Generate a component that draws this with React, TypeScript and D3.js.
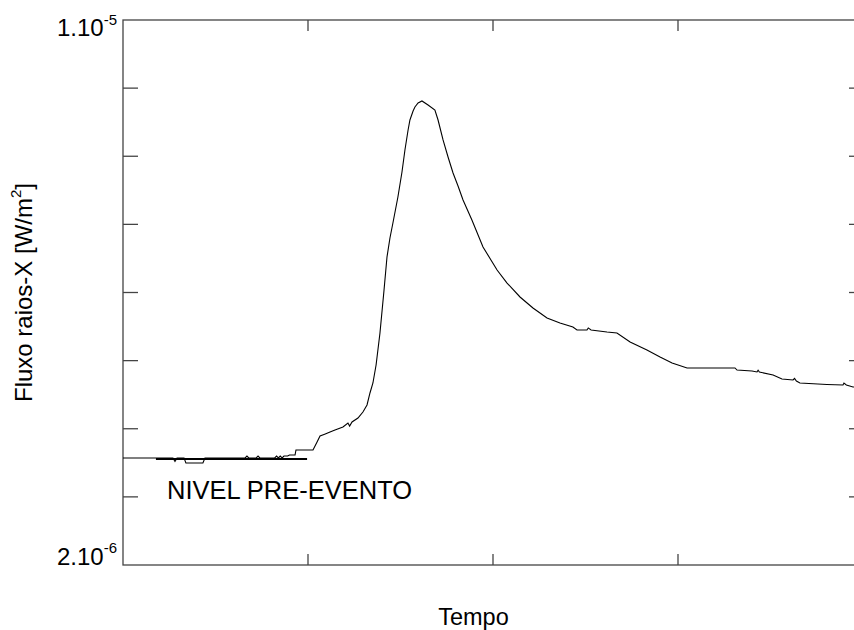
import React from "react";
import * as d3 from "d3";

// Time (arbitrary units, 4 major divisions) and X-ray flux (units of 1e-6 W/m^2)
const time = [0, 0.27, 0.281, 0.292, 0.33, 0.34, 0.432, 0.443, 0.66, 0.67, 0.68, 0.72, 0.73, 0.74, 0.82, 0.83, 0.84, 0.85, 0.86, 0.87, 0.89, 0.9, 0.93, 0.935, 1.027, 1.049, 1.065, 1.09, 1.119, 1.146, 1.189, 1.216, 1.225, 1.238, 1.27, 1.297, 1.319, 1.335, 1.351, 1.368, 1.389, 1.411, 1.427, 1.443, 1.459, 1.486, 1.508, 1.524, 1.541, 1.551, 1.568, 1.578, 1.595, 1.616, 1.649, 1.686, 1.703, 1.73, 1.757, 1.784, 1.811, 1.838, 1.886, 1.946, 2.022, 2.076, 2.146, 2.216, 2.292, 2.362, 2.432, 2.454, 2.508, 2.515, 2.53, 2.616, 2.67, 2.741, 2.832, 2.903, 2.968, 3.049, 3.308, 3.319, 3.4, 3.427, 3.433, 3.44, 3.514, 3.562, 3.622, 3.63, 3.64, 3.659, 3.805, 3.892, 3.897, 3.91, 3.946, 3.984];
const fluxE6 = [3.571, 3.571, 3.52, 3.571, 3.571, 3.497, 3.497, 3.571, 3.571, 3.6, 3.571, 3.571, 3.6, 3.571, 3.571, 3.6, 3.571, 3.6, 3.571, 3.6, 3.6, 3.615, 3.615, 3.688, 3.688, 3.806, 3.894, 3.92, 3.952, 3.982, 4.026, 4.084, 4.04, 4.099, 4.158, 4.246, 4.349, 4.525, 4.672, 4.936, 5.406, 6.037, 6.521, 6.8, 7.02, 7.402, 7.769, 8.092, 8.385, 8.532, 8.664, 8.723, 8.782, 8.811, 8.752, 8.679, 8.532, 8.239, 7.989, 7.754, 7.563, 7.358, 7.064, 6.668, 6.33, 6.139, 5.934, 5.772, 5.626, 5.552, 5.494, 5.45, 5.45, 5.48, 5.45, 5.42, 5.406, 5.273, 5.156, 5.053, 4.965, 4.892, 4.892, 4.862, 4.848, 4.833, 4.86, 4.833, 4.789, 4.73, 4.716, 4.74, 4.7, 4.672, 4.65, 4.642, 4.67, 4.642, 4.613, 4.613];

const preEventLevel = 3.556e-6;
const preEventSpan = [0.178, 0.995];
const preEventLabel = "NIVEL PRE-EVENTO";

const yTicks = [2e-6, 3e-6, 4e-6, 5e-6, 6e-6, 7e-6, 8e-6, 9e-6, 1e-5];
const xTicks = [1, 2, 3];
const xDomain = [0, 4];
const yDomain = [2e-6, 1e-5];

export default function App() {
  const left = 123, right = 863, top = 20, bottom = 565;
  const x = d3.scaleLinear().domain(xDomain).range([left, right]);
  const y = d3.scaleLinear().domain(yDomain).range([bottom, top]);
  const pts: [number, number][] = time.map((t, i) => [t, fluxE6[i] * 1e-6]);
  const line = d3.line<[number, number]>().x((d) => x(d[0])).y((d) => y(d[1]));
  const font = "'Liberation Sans', Arial, Helvetica, sans-serif";
  const axisColor = "#444";
  return (
    <svg width={854} height={630} style={{ position: "absolute", left: 0, top: 0 }} fontFamily={font}>
      <rect x={0} y={0} width={854} height={630} fill="#fff" />
      <defs>
        <clipPath id="plotclip">
          <rect x={left} y={top} width={right - left} height={bottom - top} />
        </clipPath>
      </defs>
      {/* frame */}
      <rect x={left} y={top} width={right - left} height={bottom - top} fill="none" stroke={axisColor} strokeWidth={1.3} />
      {/* y ticks */}
      {yTicks.slice(1, -1).map((v) => (
        <g key={"y" + v}>
          <line x1={left} x2={left + 15} y1={y(v)} y2={y(v)} stroke={axisColor} strokeWidth={1.3} />
          <line x1={right} x2={right - 14} y1={y(v)} y2={y(v)} stroke={axisColor} strokeWidth={1.3} />
        </g>
      ))}
      {/* x ticks */}
      {xTicks.map((t) => (
        <g key={"x" + t}>
          <line x1={x(t)} x2={x(t)} y1={bottom} y2={bottom - 11} stroke={axisColor} strokeWidth={1.3} />
          <line x1={x(t)} x2={x(t)} y1={top} y2={top + 11} stroke={axisColor} strokeWidth={1.3} />
        </g>
      ))}
      {/* y tick labels */}
      <text x={117} y={y(yDomain[1]) + 16} textAnchor="end" fontSize={24} fill="#000">
        1.10<tspan fontSize={15} dy={-11}>-5</tspan>
      </text>
      <text x={117} y={y(yDomain[0])} textAnchor="end" fontSize={24} fill="#000">
        2.10<tspan fontSize={15} dy={-12}>-6</tspan>
      </text>
      {/* data */}
      <g clipPath="url(#plotclip)">
        <path d={line(pts) || ""} fill="none" stroke="#000" strokeWidth={1.1} />
        <line
          x1={x(preEventSpan[0])}
          x2={x(preEventSpan[1])}
          y1={y(preEventLevel)}
          y2={y(preEventLevel)}
          stroke="#000"
          strokeWidth={2}
        />
      </g>
      <text x={167} y={499} fontSize={25.5} fill="#000">{preEventLabel}</text>
      {/* axis titles */}
      <text x={473.5} y={625} textAnchor="middle" fontSize={23.5} fill="#000">Tempo</text>
      <text transform={`translate(32, ${(top + bottom) / 2}) rotate(-90)`} textAnchor="middle" fontSize={24} fill="#000">
        Fluxo raios-X [W/m<tspan fontSize={15} dy={-11}>2</tspan><tspan dy={11}>]</tspan>
      </text>
    </svg>
  );
}
